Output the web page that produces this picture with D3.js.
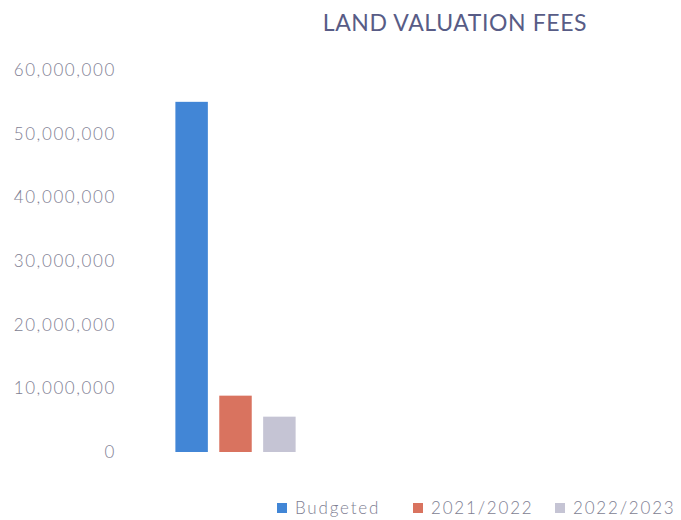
<!DOCTYPE html>
<html>
<head>
<meta charset="utf-8">
<script src="https://cdn.jsdelivr.net/npm/d3@7"></script>
<style>
  html, body { margin: 0; padding: 0; background: #fff; }
  svg { display: block; font-family: Lato, "Open Sans", sans-serif; }
</style>
</head>
<body>
<svg id="chart" width="681" height="520"></svg>
<script>
// --- Data ---
const SERIES = ["Budgeted", "2021/2022", "2022/2023"];
const VALUES = [55000000, 8850000, 5550000];
const COLORS = ["#4286d6", "#d9735f", "#c5c4d4"];
const Y_TICKS = [0, 10000000, 20000000, 30000000, 40000000, 50000000, 60000000];

const svg = d3.select("#chart");
const W = 681, H = 520;

svg.append("rect").attr("width", W).attr("height", H).attr("fill", "#fff");

// --- Scales ---
const y = d3.scaleLinear().domain([0, 60000000]).range([452, 70]);
const x = d3.scaleBand().domain(SERIES).range([171, 300]).paddingInner(0.26).paddingOuter(0.1);

// Y axis (labels only, no line)
const yAxis = d3.axisLeft(y)
  .tickValues(Y_TICKS)
  .tickSize(0)
  .tickPadding(0)
  .tickFormat(d3.format(","));

const gY = svg.append("g").attr("transform", "translate(116,0)").call(yAxis);
gY.select(".domain").remove();
gY.selectAll("text")
  .attr("font-family", "Lato, 'Open Sans', sans-serif")
  .attr("font-size", "17px")
  .attr("font-weight", "300")
  .attr("letter-spacing", "1.6px")
  .attr("fill", "#7e7e92");

// Bars
svg.append("g").selectAll("rect")
  .data(SERIES)
  .join("rect")
  .attr("x", d => x(d))
  .attr("width", x.bandwidth())
  .attr("y", (d, i) => y(VALUES[i]))
  .attr("height", (d, i) => y(0) - y(VALUES[i]))
  .attr("fill", (d, i) => COLORS[i]);

// Title
svg.append("text")
  .attr("x", 455).attr("y", 31)
  .attr("text-anchor", "middle")
  .attr("font-size", "23px")
  .attr("font-weight", "400")
  .attr("letter-spacing", "0.6px")
  .attr("fill", "#585c86")
  .text("LAND VALUATION FEES");

// Legend
const legendX = [277, 413, 555];
const lg = svg.append("g").selectAll("g")
  .data(SERIES)
  .join("g")
  .attr("transform", (d, i) => `translate(${legendX[i]}, 509)`);

lg.append("rect")
  .attr("x", 0).attr("y", -6)
  .attr("width", 10).attr("height", 10)
  .attr("fill", (d, i) => COLORS[i]);

lg.append("text")
  .attr("x", 18).attr("y", 5)
  .attr("font-size", "17px")
  .attr("font-weight", "300")
  .attr("letter-spacing", "1.8px")
  .attr("fill", "#7e7e92")
  .text(d => d);
</script>
</body>
</html>
